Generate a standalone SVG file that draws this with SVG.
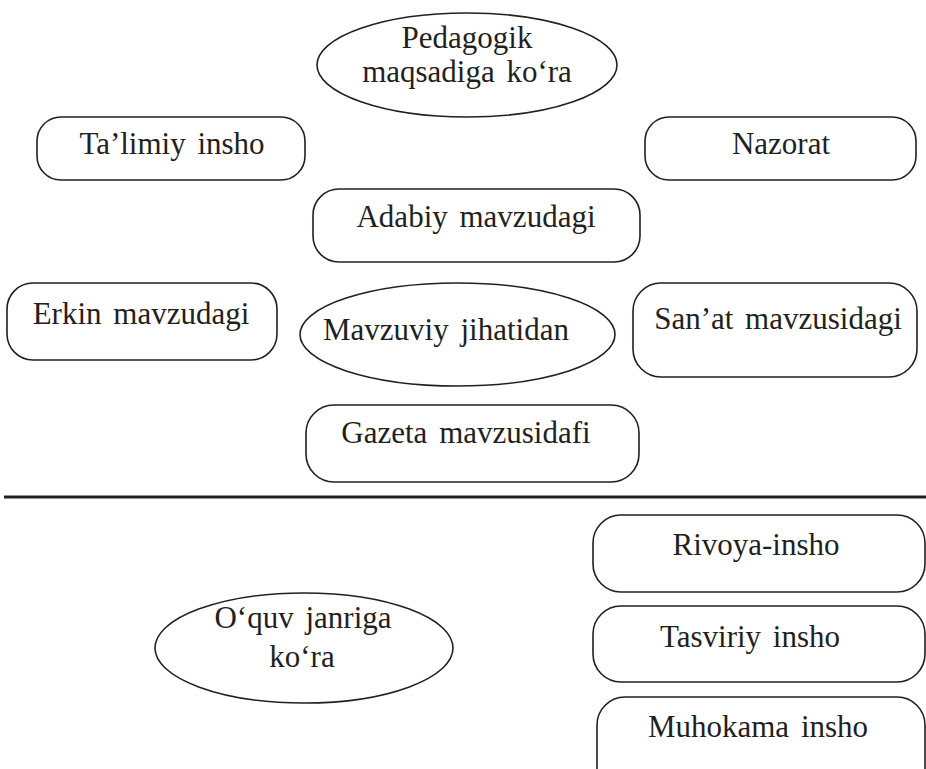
<svg xmlns="http://www.w3.org/2000/svg" width="926" height="769" viewBox="0 0 926 769">
<style>
.s{fill:#fff;stroke:#231f20;stroke-width:1.6}
.t{font-size:31px;fill:#231f20;text-anchor:middle;word-spacing:4px}
</style>
<rect width="926" height="769" fill="#fff"/>
<g id="pedagogik"><ellipse class="s" cx="467" cy="65" rx="150" ry="52"/><text class="t" font-family="Liberation Serif" x="467" y="48">Pedagogik</text><text class="t" font-family="Liberation Serif" x="467" y="82">maqsadiga ko‘ra</text></g>
<g id="talimiy"><rect class="s" x="37" y="117" width="268" height="63" rx="24"/><text class="t" font-family="Liberation Serif" x="172" y="154">Ta’limiy insho</text></g>
<g id="nazorat"><rect class="s" x="645" y="117" width="271" height="63" rx="24"/><text class="t" font-family="Liberation Serif" x="781" y="154">Nazorat</text></g>
<g id="adabiy"><rect class="s" x="313" y="189" width="327" height="73" rx="26"/><text class="t" font-family="Liberation Serif" x="476" y="227">Adabiy mavzudagi</text></g>
<g id="erkin"><rect class="s" x="7" y="283" width="270" height="77" rx="26"/><text class="t" font-family="Liberation Serif" x="141" y="324">Erkin mavzudagi</text></g>
<g id="mavzuviy"><ellipse class="s" cx="457.5" cy="334.5" rx="157.5" ry="51.5"/><text class="t" font-family="Liberation Serif" x="446" y="340">Mavzuviy jihatidan</text></g>
<g id="sanat"><rect class="s" x="633" y="283" width="284" height="94" rx="28"/><text class="t" font-family="Liberation Serif" x="778" y="329">San’at mavzusidagi</text></g>
<g id="gazeta"><rect class="s" x="306" y="405" width="333" height="77" rx="28"/><text class="t" font-family="Liberation Serif" x="466" y="443">Gazeta mavzusidafi</text></g>
<g id="connectors"><line x1="4" y1="497" x2="926" y2="497" stroke="#231f20" stroke-width="3"/></g>
<g id="oquv"><ellipse class="s" cx="304" cy="648" rx="149" ry="55"/><text class="t" font-family="Liberation Serif" x="303" y="628">O‘quv janriga</text><text class="t" font-family="Liberation Serif" x="302" y="667">ko‘ra</text></g>
<g id="rivoya"><rect class="s" x="593" y="515" width="332" height="77" rx="28"/><text class="t" font-family="Liberation Serif" x="756" y="555">Rivoya-insho</text></g>
<g id="tasviriy"><rect class="s" x="593" y="606" width="332" height="76" rx="28"/><text class="t" font-family="Liberation Serif" x="750" y="647">Tasviriy insho</text></g>
<g id="muhokama"><rect class="s" x="597" y="697" width="328" height="100" rx="28"/><text class="t" font-family="Liberation Serif" x="758" y="737">Muhokama insho</text></g>
</svg>
